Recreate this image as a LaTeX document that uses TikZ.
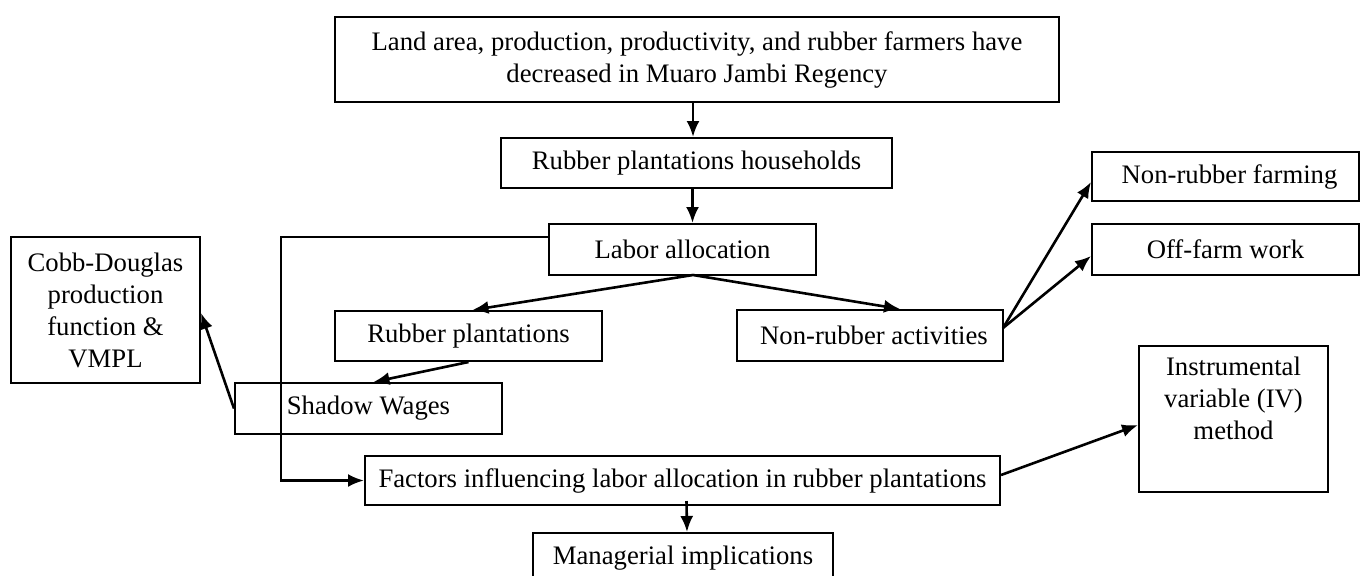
\documentclass[tikz,border=0pt]{standalone}
\usepackage{fontspec}
\setmainfont{Liberation Serif}
\usetikzlibrary{arrows.meta}
\begin{document}
\begin{tikzpicture}[x=0.5pt,y=-0.5pt,
  box/.style={draw,line width=1pt,inner sep=0pt,align=center,
    font=\fontsize{13.35pt}{16pt}\selectfont},
  arr/.style={line width=1.3pt,-{Latex[length=8pt,width=6.5pt]}}]
\useasboundingbox (0,0) rectangle (1363,575);
\clip (0,0) rectangle (1363,575);
\node[box,minimum width=362pt,minimum height=42.5pt] (top) at (697,59.5)
  {Land area, production, productivity, and rubber farmers have\\decreased in Muaro Jambi Regency};
\node[box,minimum width=195.5pt,minimum height=25pt] (hh) at (696.5,163) {Rubber plantations households};
\node[box,minimum width=133.5pt,minimum height=25.5pt] (labor) at (682.5,249.5) {Labor allocation};
\node[box,minimum width=133.5pt,minimum height=24.5pt] (nrf) at (1225.5,176.5) {\hspace{4pt}Non-rubber farming};
\node[box,minimum width=133.5pt,minimum height=25.5pt] (off) at (1225.5,249.5) {Off-farm work};
\node[box,minimum width=94.5pt,minimum height=73pt] (cobb) at (105.5,310) {Cobb-Douglas\\production\\function \&\\VMPL};
\node[box,minimum width=133.5pt,minimum height=25pt] (rp) at (468.5,336) {Rubber plantations};
\node[box,minimum width=133pt,minimum height=25.5pt] (nra) at (870,335.5) {\hspace{4pt}Non-rubber activities};
\node[box,minimum width=133.5pt,minimum height=25.5pt] (shadow) at (368.5,408.5) {Shadow Wages};
\node[box,minimum width=94.5pt,minimum height=73pt] (iv) at (1233.5,419) {Instrumental\\variable (IV)\\method\\\strut};
\node[box,minimum width=317.5pt,minimum height=24.5pt] (factors) at (682.5,480.5) {Factors influencing labor allocation in rubber plantations};
\node[box,minimum width=150pt,minimum height=25pt] (manag) at (683,558) {Managerial implications};

\coordinate (fork) at (693,275);
\coordinate (bend) at (281,237);
\coordinate (nraout) at (1003,328);

\draw[arr] ([xshift=-2pt]top.south) -- ([xshift=-2pt]top.south |- hh.north);
\draw[arr] ([xshift=-2pt]hh.south) -- ([xshift=-2pt]hh.south |- labor.north);
\draw[arr] (fork) -- ([xshift=2pt]rp.north);
\draw[arr] (fork) -- ([xshift=15pt]nra.north);
\draw[arr] (rp.south) -- ([xshift=2.5pt]shadow.north);
\draw[arr] (shadow.west) -- ([yshift=-1.5pt]cobb.east);
\draw[arr] (labor.west |- bend) -- (bend) |- (factors.west);
\draw[arr] (nraout) -- ([yshift=-2.75pt]nrf.west);
\draw[arr] (nraout) -- ([yshift=-3.25pt]off.west);
\draw[arr] ([yshift=2.75pt]factors.east) -- ([yshift=-3pt]iv.west);
\draw[arr] ([xshift=2pt,yshift=2.5pt]factors.south) -- ([xshift=2pt]manag.north);
\end{tikzpicture}
\end{document}
